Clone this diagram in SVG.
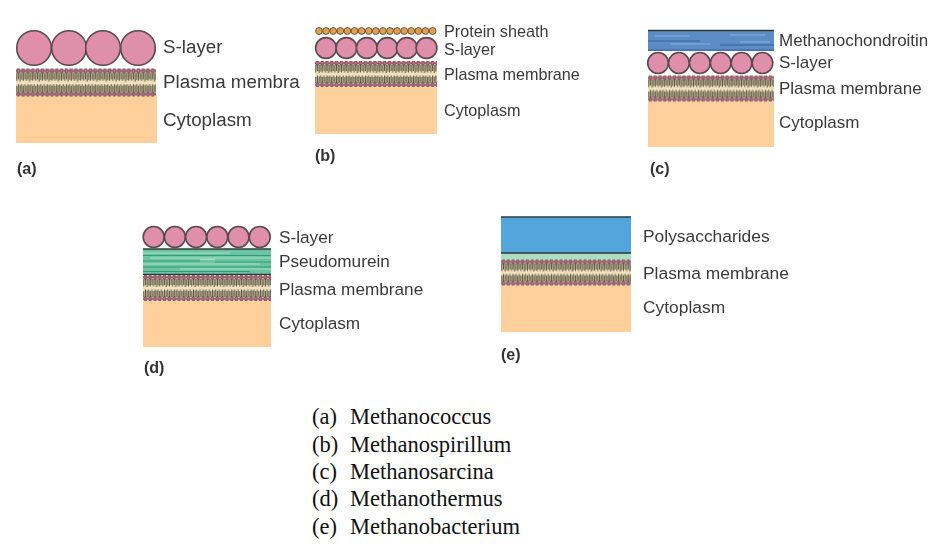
<svg xmlns="http://www.w3.org/2000/svg" width="941" height="551" viewBox="0 0 941 551">
<style>
.l{font-family:"Liberation Sans",Arial,sans-serif;fill:#3a3a3a}
.fa{font-size:18.800px}.fb{font-size:16.200px}.fc{font-size:17px}.fd{font-size:17.200px}.fe{font-size:17.400px}
.t{font-family:"Liberation Sans",Arial,sans-serif;font-size:16px;fill:#333;font-weight:700}
.r{font-family:"Liberation Serif","Times New Roman",serif;font-size:22.500px;fill:#111}
.s{fill:#e08fab;stroke:#5a4a50;stroke-width:1.600}
.p{fill:#e0a050;stroke:#6a5a40;stroke-width:1}
.c{fill:#ffcf9c}
.m{fill:url(#mem)}
.e{stroke:#2f3a3c;stroke-width:1.500;fill:none}
.bl{stroke:#8fb0d8;stroke-width:1;fill:none}
.bd{stroke:#35609c;stroke-width:1;fill:none}
.gl{stroke:#a8e0c4;stroke-width:1;fill:none}
.gd{stroke:#2f9c7c;stroke-width:1;fill:none}
</style>
<defs>
<filter id="soft" x="-2%" y="-2%" width="104%" height="104%"><feGaussianBlur stdDeviation="0.4"/></filter>
<pattern id="mem" patternUnits="userSpaceOnUse" width="9.600" height="26">
<rect width="9.600" height="26" fill="#efe2bc"/>
<path d="M.8 4V11.500M2.400 4V10M4 4V12M5.600 4V10.500M7.200 4V11.500M8.800 4V10M.8 16V22M2.400 14.500V22M4 15.500V22M5.600 14.500V22M7.200 16V22M8.800 14.500V22" stroke="#5c5644" stroke-width="1.050" fill="none"/>
<circle cx="2.400" cy="2.200" r="1.900" fill="#c2608c" stroke="#463a3e" stroke-width=".7"/>
<circle cx="7.200" cy="2.200" r="1.900" fill="#c2608c" stroke="#463a3e" stroke-width=".7"/>
<circle cx="2.400" cy="23.800" r="1.900" fill="#c2608c" stroke="#463a3e" stroke-width=".7"/>
<circle cx="7.200" cy="23.800" r="1.900" fill="#c2608c" stroke="#463a3e" stroke-width=".7"/>
</pattern>
<g id="s6"><circle cx="10.700" cy="11" r="10.500" class="s"/><circle cx="31.900" cy="11" r="10.500" class="s"/><circle cx="53.100" cy="11" r="10.500" class="s"/><circle cx="74.300" cy="11" r="10.500" class="s"/><circle cx="95.500" cy="11" r="10.500" class="s"/><circle cx="116.700" cy="11" r="10.500" class="s"/></g>
</defs>
<rect width="941" height="551" fill="#fff"/>
<g filter="url(#soft)">
<g id="panel-a">
<rect class="c" x="16" y="95" width="141" height="48"/>
<rect class="m" width="140" height="26" transform="translate(16 68.500) scale(1 1.080)"/>
<circle cx="34" cy="48" r="17.300" class="s"/><circle cx="69" cy="48" r="17.300" class="s"/><circle cx="103" cy="48" r="17.300" class="s"/><circle cx="138" cy="48" r="17.300" class="s"/>
<text class="l fa" x="163" y="53">S-layer</text><text class="l fa" x="163" y="88">Plasma membra</text><text class="l fa" x="163" y="126">Cytoplasm</text><text class="t" x="17" y="174">(a)</text>
</g>
<g id="panel-b">
<rect class="c" x="315" y="87" width="122" height="47"/>
<rect class="m" width="122" height="26" transform="translate(315 61)"/>
<g id="sheath"><circle cx="319" cy="31" r="3.400" class="p"/><circle cx="326.100" cy="31" r="3.400" class="p"/><circle cx="333.200" cy="31" r="3.400" class="p"/><circle cx="340.300" cy="31" r="3.400" class="p"/><circle cx="347.400" cy="31" r="3.400" class="p"/><circle cx="354.500" cy="31" r="3.400" class="p"/><circle cx="361.600" cy="31" r="3.400" class="p"/><circle cx="368.700" cy="31" r="3.400" class="p"/><circle cx="375.800" cy="31" r="3.400" class="p"/><circle cx="382.900" cy="31" r="3.400" class="p"/><circle cx="390" cy="31" r="3.400" class="p"/><circle cx="397.100" cy="31" r="3.400" class="p"/><circle cx="404.200" cy="31" r="3.400" class="p"/><circle cx="411.300" cy="31" r="3.400" class="p"/><circle cx="418.400" cy="31" r="3.400" class="p"/><circle cx="425.500" cy="31" r="3.400" class="p"/><circle cx="432.600" cy="31" r="3.400" class="p"/></g>
<g transform="translate(315 37)"><circle cx="11" cy="11" r="10.400" class="s"/><circle cx="31.400" cy="11" r="10.400" class="s"/><circle cx="51.800" cy="11" r="10.400" class="s"/><circle cx="72.200" cy="11" r="10.400" class="s"/><circle cx="91.800" cy="11" r="10.400" class="s"/><circle cx="111.500" cy="11" r="10.400" class="s"/></g>
<text class="l fb" x="444" y="37">Protein sheath</text><text class="l fb" x="444" y="55">S-layer</text><text class="l fb" x="444" y="80">Plasma membrane</text><text class="l fb" x="444" y="116">Cytoplasm</text><text class="t" x="315" y="161">(b)</text>
</g>
<g id="panel-c">
<rect class="c" x="648" y="101" width="126" height="46"/>
<rect x="648" y="30" width="126" height="21" fill="#5b8cc6"/>
<path class="e" d="M648 30.500H774"/><path class="bd" d="M648 50H774M648 41H700M720 45H774"/><path class="bl" d="M655 36H690M730 35H765M670 44H710M740 42H770"/>
<use href="#s6" transform="translate(647.500 52) scale(.985 1)"/>
<rect class="m" width="126" height="26" transform="translate(648 75.500)"/>
<text class="l fc" x="779" y="46">Methanochondroitin</text><text class="l fc" x="779" y="68">S-layer</text><text class="l fc" x="779" y="94">Plasma membrane</text><text class="l fc" x="779" y="128">Cytoplasm</text><text class="t" x="650" y="174">(c)</text>
</g>
<g id="panel-d">
<rect class="c" x="143" y="301" width="128" height="46"/>
<rect x="143" y="249" width="128" height="25" fill="#6cc4a2"/>
<path class="gl" d="M143 253H230M150 258H271M143 264H260M200 259.500H215M180 269H271"/><path class="gd" d="M143 255.500H271M143 261H200M215 262H271M143 267H271M143 271.500H250"/>
<path class="e" d="M143 249H271M143 274.500H271"/>
<rect class="m" width="128" height="26" transform="translate(143 275)"/>
<use href="#s6" transform="translate(143 226)"/>
<text class="l fd" x="279" y="243">S-layer</text><text class="l fd" x="279" y="267">Pseudomurein</text><text class="l fd" x="279" y="295">Plasma membrane</text><text class="l fd" x="279" y="329">Cytoplasm</text><text class="t" x="144" y="373">(d)</text>
</g>
<g id="panel-e">
<rect class="c" x="501" y="285" width="130" height="47"/>
<rect x="501" y="217" width="130" height="36" fill="#55a5dd"/>
<rect x="501" y="253" width="130" height="7" fill="#a9dfc0"/>
<path class="e" d="M501 217H631M501 253H631"/>
<rect class="m" width="130" height="26" transform="translate(501 259.500)"/>
<text class="l fe" x="643" y="242">Polysaccharides</text><text class="l fe" x="643" y="279">Plasma membrane</text><text class="l fe" x="643" y="313">Cytoplasm</text><text class="t" x="501" y="360">(e)</text>
</g>
</g>
<g id="legend">
<text class="r" x="312" y="424">(a)</text><text class="r" x="350" y="424">Methanococcus</text>
<text class="r" x="312" y="452">(b)</text><text class="r" x="350" y="452">Methanospirillum</text>
<text class="r" x="312" y="479">(c)</text><text class="r" x="350" y="479">Methanosarcina</text>
<text class="r" x="312" y="506">(d)</text><text class="r" x="350" y="506">Methanothermus</text>
<text class="r" x="312" y="534">(e)</text><text class="r" x="350" y="534">Methanobacterium</text>
</g>
</svg>
